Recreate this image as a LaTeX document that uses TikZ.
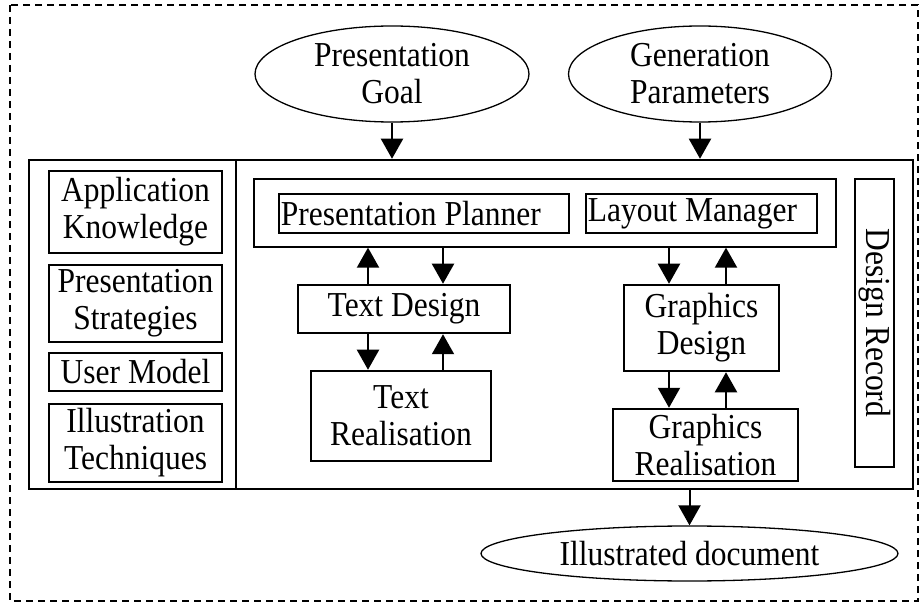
\documentclass[tikz,border=0pt]{standalone}
\usepackage{fontspec}
\setmainfont{Liberation Serif}[FakeStretch=0.9]
\usetikzlibrary{arrows.meta,shapes.geometric}
\begin{document}
\begin{tikzpicture}[x=1pt,y=-1pt,
  font=\fontsize{35}{37}\selectfont,
  thickbox/.style={draw, rectangle, line width=2.5pt, inner sep=0pt, align=center},
  thinbox/.style={draw, rectangle, line width=1.3pt, inner sep=0pt, align=center},
  goal/.style={draw, ellipse, line width=1.3pt, inner sep=0pt, align=center},
  flow/.style={line width=2pt, -{Triangle[length=20pt,width=22pt]}},
  boxlabel/.style={anchor=west, inner sep=0pt, xshift=3pt},
]
\useasboundingbox (0,0) rectangle (922,604);

% dashed system frame
\draw[line width=1.3pt, dash pattern=on 7pt off 5pt] (10,5) rectangle (918,601);

% inputs and output
\node[goal, minimum width=274, minimum height=96] (pg) at (392,74) {Presentation\\Goal};
\node[goal, minimum width=263, minimum height=96] (gp) at (700,74) {Generation\\Parameters};
\node[goal, minimum width=417, minimum height=55] (id) at (689.5,553.5) {Illustrated document};

% main system box with knowledge bases on the left
\node[thickbox, minimum width=884, minimum height=329] (main) at (471,324.5) {};
\node[thickbox, minimum width=207, minimum height=329] (kb) at (132.5,324.5) {};

\node[thickbox, minimum width=173, minimum height=82] (ak) at (135.5,212) {Application\\Knowledge};
\node[thickbox, minimum width=173, minimum height=77] (ps) at (135.5,303.5) {Presentation\\Strategies};
\node[thickbox, minimum width=173, minimum height=38] (um) at (135.5,372) {User Model};
\node[thickbox, minimum width=173, minimum height=78] (it) at (135.5,443) {Illustration\\Techniques};

% planning components
\node[thinbox, minimum width=582, minimum height=68] (grp) at (545,213) {};
\node[thickbox, minimum width=290, minimum height=39] (pp) at (424,213.5) {};
\node[boxlabel] (ppl) at (pp.west) {Presentation Planner};
\node[thickbox, minimum width=231, minimum height=39] (lm) at (701.5,213.5) {};
\node[boxlabel] (lml) at (lm.west) {Layout Manager};

\node[thinbox, line width=1.8pt, minimum width=39, minimum height=288] (dr) at (874.5,323) {};
\node[rotate=-90, inner sep=0pt] (drl) at (dr.center) {Design Record};

% text and graphics branches
\node[thickbox, minimum width=212, minimum height=48] (td) at (404,309) {Text Design};
\node[thickbox, minimum width=180, minimum height=90] (tr) at (401,416) {Text\\Realisation};
\node[thickbox, minimum width=155, minimum height=86] (gd) at (701.5,328) {Graphics\\Design};
\node[thickbox, minimum width=185, minimum height=72] (gr) at (705.5,445) {Graphics\\Realisation};

% connector columns
\coordinate (cup) at (368,0);
\coordinate (cdn) at (443,0);
\coordinate (gdn) at (669,0);
\coordinate (gup) at (726,0);

\draw[flow] (pg.south) -- (pg.south |- main.north);
\draw[flow] (gp.south) -- (gp.south |- main.north);

\draw[flow] (td.north -| cup) -- (grp.south -| cup);
\draw[flow] (grp.south -| cdn) -- (td.north -| cdn);
\draw[flow] (td.south -| cup) -- (tr.north -| cup);
\draw[flow] (tr.north -| cdn) -- (td.south -| cdn);

\draw[flow] (grp.south -| gdn) -- (gd.north -| gdn);
\draw[flow] (gd.north -| gup) -- (grp.south -| gup);
\draw[flow] (gd.south -| gdn) -- (gr.north -| gdn);
\draw[flow] (gr.north -| gup) -- (gd.south -| gup);

\draw[flow] (main.south -| id.north) -- (id.north);
\end{tikzpicture}
\end{document}
